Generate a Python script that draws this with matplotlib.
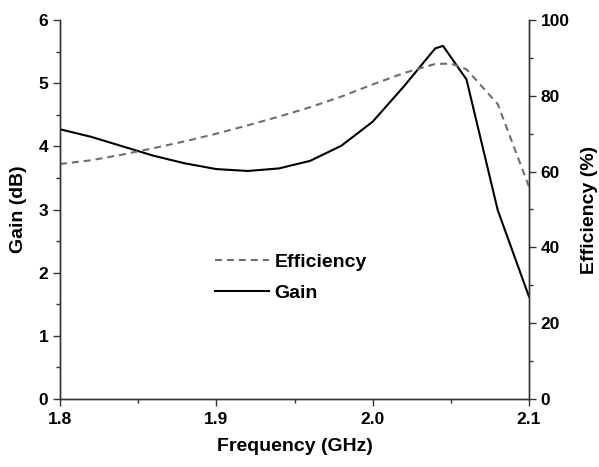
import matplotlib
matplotlib.use("Agg")
import matplotlib.pyplot as plt
from matplotlib.ticker import MultipleLocator

plt.rcParams['font.family'] = ['Liberation Sans', 'DejaVu Sans']
plt.rcParams['font.weight'] = 'bold'
plt.rcParams['lines.scale_dashes'] = False

freq_gain = [1.80, 1.82, 1.84, 1.86, 1.88, 1.90, 1.92, 1.94, 1.96, 1.98, 2.00, 2.02, 2.04, 2.045, 2.06, 2.08, 2.10]
gain = [4.27, 4.15, 4.00, 3.85, 3.73, 3.64, 3.61, 3.65, 3.77, 4.01, 4.39, 4.95, 5.55, 5.59, 5.06, 2.99, 1.62]

freq_eff = [1.80, 1.82, 1.84, 1.86, 1.88, 1.90, 1.92, 1.94, 1.96, 1.98, 2.00, 2.02, 2.04, 2.05, 2.06, 2.08, 2.10]
efficiency = [62.0, 63.0, 64.5, 66.2, 68.0, 70.0, 72.2, 74.5, 77.0, 79.8, 83.0, 86.0, 88.4, 88.5, 87.0, 77.8, 56.0]

fig = plt.figure(figsize=(5.99, 4.67), dpi=100)
ax = fig.add_axes([60/599, 1-399/467, 469/599, 379/467])
ax2 = ax.twinx()

le, = ax2.plot(freq_eff, efficiency, color='#6e6e6e', lw=1.5, linestyle=(0, (5, 3.6)), label='Efficiency')
lg, = ax.plot(freq_gain, gain, color='black', lw=1.5, label='Gain')

ax.set_xlim(1.8, 2.1)
ax.set_ylim(0, 6)
ax2.set_ylim(0, 100)

ax.xaxis.set_major_locator(MultipleLocator(0.1))
ax.xaxis.set_minor_locator(MultipleLocator(0.05))
ax.yaxis.set_major_locator(MultipleLocator(1))
ax.yaxis.set_minor_locator(MultipleLocator(0.5))
ax2.yaxis.set_major_locator(MultipleLocator(20))
ax2.yaxis.set_minor_locator(MultipleLocator(10))

for a in (ax, ax2):
    a.spines['top'].set_visible(False)
    for s in a.spines.values():
        s.set_color('#333333')
        s.set_linewidth(1.0)
    a.tick_params(which='major', direction='out', length=5, width=1, color='#333333', labelsize=12.5)
    a.tick_params(which='minor', direction='out', length=3, width=1, color='#333333')

ax.tick_params(axis='x', which='both', top=False)
ax.tick_params(axis='x', pad=4)
ax2.tick_params(axis='x', which='both', top=False)

ax.set_xlabel('Frequency (GHz)', fontsize=14, fontweight='bold', labelpad=8)
ax.set_ylabel('Gain (dB)', fontsize=14, fontweight='bold', labelpad=8)
ax2.set_ylabel('Efficiency (%)', fontsize=14, fontweight='bold', labelpad=8)

ax.legend([le, lg], ['Efficiency', 'Gain'], loc='upper left', bbox_to_anchor=(0.31, 0.41),
          frameon=False, fontsize=14, handlelength=2.75, handletextpad=0.3, labelspacing=0.68,
          borderpad=0)

fig.savefig('out.png', dpi=100)
